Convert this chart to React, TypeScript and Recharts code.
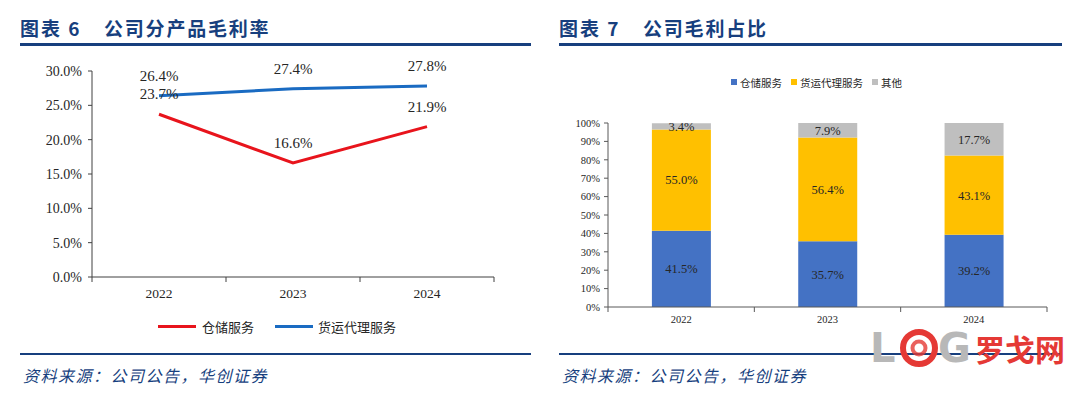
import { LineChart, Line, BarChart, Bar, XAxis, YAxis, LabelList } from "recharts";

const years = ["2022", "2023", "2024"];

// 图表6 公司分产品毛利率 (%)
const storageMargin = [23.7, 16.6, 21.9];
const freightMargin = [26.4, 27.4, 27.8];
const marginTicks = [0, 5, 10, 15, 20, 25, 30];

// 图表7 公司毛利占比 (%)
const storageShare = [41.5, 35.7, 39.2];
const freightShare = [55.0, 56.4, 43.1];
const otherShare = [3.4, 7.9, 17.7];
const shareTicks = [0, 10, 20, 30, 40, 50, 60, 70, 80, 90, 100];

const NAME_STORAGE = "仓储服务";
const NAME_FREIGHT = "货运代理服务";
const NAME_OTHER = "其他";

const marginData = years.map((y, i) => ({
  year: y,
  storage: storageMargin[i],
  freight: freightMargin[i],
}));

const shareData = years.map((y, i) => ({
  year: y,
  storage: storageShare[i],
  freight: freightShare[i],
  other: otherShare[i],
}));

const SERIF = "'Times New Roman', 'Liberation Serif', serif";
const CJK = "'Noto Sans CJK SC', 'Noto Sans', sans-serif";
const NAVY = "#173f7e";
const pct1 = (v: any) => `${Number(v).toFixed(1)}%`;

// category label in the middle, tick marks on the band edges
function BoundaryTick(props: any) {
  const { x, y, payload, index, visibleTicksCount, gap, size, half, axisColor } = props;
  const h = payload && payload.offset ? payload.offset : half;
  const top = y - gap;
  return (
    <g>
      <line x1={x - h} x2={x - h} y1={top} y2={top + 5} stroke={axisColor} />
      {index === visibleTicksCount - 1 && (
        <line x1={x + h} x2={x + h} y1={top} y2={top + 5} stroke={axisColor} />
      )}
      <text
        x={x}
        y={y}
        textAnchor="middle"
        dominantBaseline="central"
        fontSize={size}
        fontFamily={SERIF}
        fill="#262626"
      >
        {payload.value}
      </text>
    </g>
  );
}

function Title({ left, num, text, textLeft }: any) {
  return (
    <>
      <div
        style={{
          position: "absolute",
          left,
          top: 15,
          fontFamily: CJK,
          fontWeight: 700,
          fontSize: 19,
          letterSpacing: 2,
          color: NAVY,
          lineHeight: "26px",
          whiteSpace: "nowrap",
        }}
      >
        图表 {num}
      </div>
      <div
        style={{
          position: "absolute",
          left: textLeft,
          top: 15,
          fontFamily: CJK,
          fontWeight: 700,
          fontSize: 19,
          letterSpacing: 1.8,
          color: NAVY,
          lineHeight: "26px",
          whiteSpace: "nowrap",
        }}
      >
        {text}
      </div>
      <div style={{ position: "absolute", left, top: 43, width: left < 500 ? 511 : 503, height: 3, background: NAVY }} />
    </>
  );
}

function Source({ left }: any) {
  return (
    <>
      <div style={{ position: "absolute", left, top: 353, width: left < 500 ? 511 : 503, height: 2, background: NAVY }} />
      <div
        style={{
          position: "absolute",
          left: left + 3,
          top: 364,
          fontFamily: CJK,
          fontStyle: "italic",
          fontSize: 16,
          letterSpacing: 1.5,
          color: NAVY,
          lineHeight: "22px",
          whiteSpace: "nowrap",
        }}
      >
        资料来源：公司公告，华创证券
      </div>
    </>
  );
}

export default function App() {
  return (
    <div style={{ position: "absolute", left: 0, top: 0, width: 1080, height: 394, background: "#fff", overflow: "hidden" }}>
      <Title left={20} num={6} text="公司分产品毛利率" textLeft={104} />
      <Title left={559} num={7} text="公司毛利占比" textLeft={643} />

      {/* 图表6 */}
      <div style={{ position: "absolute", left: 0, top: 0 }}>
        <LineChart width={540} height={360} data={marginData} margin={{ top: 71, right: 46, left: 32, bottom: 53 }}>
          <XAxis
            dataKey="year"
            scale="band"
            height={30}
            axisLine={{ stroke: "#404040" }}
            tickLine={false}
            tickSize={0}
            tickMargin={16}
            interval={0}
            tick={<BoundaryTick gap={16} size={13.5} half={67} axisColor="#404040" />}
          />
          <YAxis
            width={60}
            domain={[0, 30]}
            ticks={marginTicks}
            interval={0}
            tickFormatter={pct1}
            axisLine={{ stroke: "#404040" }}
            tickLine={{ stroke: "#404040" }}
            tickSize={4}
            tickMargin={6}
            tick={{ fontSize: 14, fontFamily: SERIF, fill: "#262626" }}
          />
          <Line dataKey="storage" name={NAME_STORAGE} stroke="#e8141c" strokeWidth={3} dot={false} isAnimationActive={false}>
            <LabelList dataKey="storage" position="top" offset={15} formatter={pct1} style={{ fontSize: 15, fontFamily: SERIF, fill: "#262626" }} />
          </Line>
          <Line dataKey="freight" name={NAME_FREIGHT} stroke="#1a6bc2" strokeWidth={3} dot={false} isAnimationActive={false}>
            <LabelList dataKey="freight" position="top" offset={15} formatter={pct1} style={{ fontSize: 15, fontFamily: SERIF, fill: "#262626" }} />
          </Line>
        </LineChart>
      </div>
      <div style={{ position: "absolute", left: 158, top: 317, height: 18, display: "flex", alignItems: "center", fontFamily: CJK, fontSize: 13, color: "#262626", whiteSpace: "nowrap" }}>
        <span style={{ width: 38, height: 3, background: "#e8141c", marginRight: 6 }} />
        <span style={{ marginRight: 21 }}>{NAME_STORAGE}</span>
        <span style={{ width: 38, height: 3, background: "#1a6bc2", marginRight: 5 }} />
        <span>{NAME_FREIGHT}</span>
      </div>

      {/* 图表7 */}
      <div style={{ position: "absolute", left: 540, top: 0 }}>
        <BarChart width={540} height={340} data={shareData} margin={{ top: 123, right: 33, left: 18, bottom: 13 }} barCategoryGap="30%">
          <XAxis
            dataKey="year"
            height={20}
            axisLine={{ stroke: "#595959" }}
            tickLine={false}
            tickSize={0}
            tickMargin={12}
            interval={0}
            tick={<BoundaryTick gap={12} size={10.5} half={73} axisColor="#595959" />}
          />
          <YAxis
            width={50}
            domain={[0, 100]}
            ticks={shareTicks}
            interval={0}
            allowDataOverflow
            tickFormatter={(v: number) => `${v}%`}
            axisLine={{ stroke: "#595959" }}
            tickLine={{ stroke: "#595959" }}
            tickSize={4}
            tickMargin={4}
            tick={{ fontSize: 10.5, fontFamily: SERIF, fill: "#262626" }}
          />
          <Bar dataKey="storage" name={NAME_STORAGE} stackId="s" fill="#4472c4" isAnimationActive={false}>
            <LabelList dataKey="storage" position="center" formatter={pct1} style={{ fontSize: 12.5, fontFamily: SERIF, fill: "#262626" }} />
          </Bar>
          <Bar dataKey="freight" name={NAME_FREIGHT} stackId="s" fill="#ffc000" isAnimationActive={false}>
            <LabelList dataKey="freight" position="center" formatter={pct1} style={{ fontSize: 12.5, fontFamily: SERIF, fill: "#262626" }} />
          </Bar>
          <Bar dataKey="other" name={NAME_OTHER} stackId="s" fill="#bfbfbf" isAnimationActive={false}>
            <LabelList dataKey="other" position="center" formatter={pct1} style={{ fontSize: 12.5, fontFamily: SERIF, fill: "#262626" }} />
          </Bar>
        </BarChart>
      </div>
      <div style={{ position: "absolute", left: 731, top: 74, height: 16, display: "flex", alignItems: "center", fontFamily: CJK, fontSize: 10.5, color: "#262626", whiteSpace: "nowrap" }}>
        <span style={{ width: 6, height: 6, background: "#4472c4", marginRight: 3 }} />
        <span style={{ marginRight: 9 }}>{NAME_STORAGE}</span>
        <span style={{ width: 6, height: 6, background: "#ffc000", marginRight: 3 }} />
        <span style={{ marginRight: 9 }}>{NAME_FREIGHT}</span>
        <span style={{ width: 6, height: 6, background: "#bfbfbf", marginRight: 3 }} />
        <span>{NAME_OTHER}</span>
      </div>

      <Source left={20} />
      <Source left={559} />

      {/* watermark */}
      <svg style={{ position: "absolute", left: 868, top: 327, overflow: "visible" }} width={212} height={50}>
        <text x={2} y={35} fontSize={40} fontWeight={700} fontFamily="'DejaVu Sans', sans-serif" fill="#b8b8b8">L</text>
        <circle cx={51} cy={21} r={16} fill="none" stroke="#e53935" strokeWidth={6} />
        <circle cx={51} cy={21} r={6.5} fill="none" stroke="#e53935" strokeWidth={4} opacity={0.8} />
        <text x={70} y={35} fontSize={40} fontWeight={700} fontFamily="'DejaVu Sans', sans-serif" fill="#b8b8b8">G</text>
        <text x={107} y={34} fontSize={30} fontWeight={700} fontFamily={CJK} fill="#e53935">罗戈网</text>
      </svg>
    </div>
  );
}
